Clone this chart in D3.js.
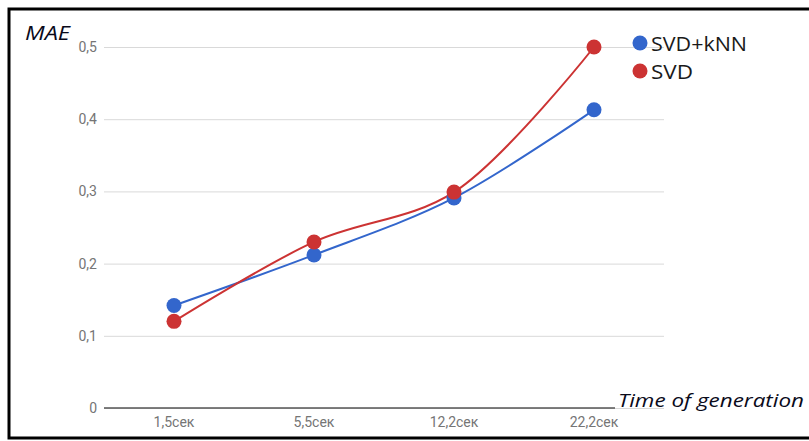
<!DOCTYPE html>
<html><head><meta charset="utf-8">
<script src="https://cdn.jsdelivr.net/npm/d3@7"></script>
<style>html,body{margin:0;padding:0;background:#fff;}svg{display:block;}</style>
</head><body>
<script>
const categories = ["1,5сек","5,5сек","12,2сек","22,2сек"];
const seriesNames = ["SVD+kNN","SVD"];
const svdKnn = [0.142, 0.212, 0.291, 0.413];
const svd = [0.120, 0.230, 0.299, 0.500];
const yTicks = [0, 0.1, 0.2, 0.3, 0.4, 0.5];
const colors = ["#3366cc", "#cc3333"];

const W = 809, H = 441;
const svg = d3.select("body").append("svg").attr("width", W).attr("height", H);
svg.append("rect").attr("width", W).attr("height", H).attr("fill", "#fff");

const x = d3.scaleBand().domain(categories).range([104, 664]);
const y = d3.scaleLinear().domain([0, 0.5]).range([408, 47]);
const fmt = v => v === 0 ? "0" : d3.format(".1f")(v).replace(".", ",");

// gridlines
const yAxis = d3.axisLeft(y).tickValues(yTicks).tickFormat(fmt).tickSize(-(664 - 104)).tickPadding(7);
const gy = svg.append("g").attr("transform", "translate(104,0)").call(yAxis);
gy.select(".domain").remove();
gy.selectAll(".tick line").attr("stroke", "#d9d9d9").attr("stroke-width", 1);
gy.selectAll(".tick text").attr("fill", "#757575").attr("font-family", "Roboto, Arial, sans-serif").attr("font-size", 14);

// baseline
svg.append("line").attr("x1", 104).attr("x2", 615).attr("y1", y(0)).attr("y2", y(0))
  .attr("stroke", "#555").attr("stroke-width", 1.5);

const xAxis = d3.axisBottom(x).tickSize(0).tickPadding(9);
const gx = svg.append("g").attr("transform", `translate(0,${y(0)})`).call(xAxis);
gx.select(".domain").remove();
gx.selectAll(".tick text").attr("fill", "#757575").attr("font-family", "Roboto, Arial, sans-serif").attr("font-size", 14);

const cx = c => x(c) + x.bandwidth() / 2;
const series = [svdKnn, svd];
const line = d3.line().x((d, i) => cx(categories[i])).y(d => y(d)).curve(d3.curveCatmullRom.alpha(0.5));

series.forEach((vals, si) => {
  svg.append("path").datum(vals).attr("d", line).attr("fill", "none")
    .attr("stroke", colors[si]).attr("stroke-width", 2);
});
series.forEach((vals, si) => {
  svg.append("g").selectAll("circle").data(vals).join("circle")
    .attr("cx", (d, i) => cx(categories[i])).attr("cy", d => y(d)).attr("r", 7.5)
    .attr("fill", colors[si]);
});

// legend
const leg = svg.append("g");
seriesNames.forEach((n, i) => {
  leg.append("circle").attr("cx", 640).attr("cy", 43 + i * 28).attr("r", 7.5).attr("fill", colors[i]);
  leg.append("text").attr("x", 651).attr("y", 51 + i * 28).text(n)
    .attr("font-family", "'Open Sans', sans-serif").attr("font-size", 20).attr("fill", "#1a1a1a")
    .attr("textLength", i === 0 ? 96 : 42).attr("lengthAdjust", "spacingAndGlyphs");
});

// axis titles
svg.append("text").attr("x", 25).attr("y", 40).text("MAE")
  .attr("font-family", "'Open Sans', sans-serif").attr("font-style", "italic").attr("font-size", 20).attr("fill", "#0a0a1a")
  .attr("textLength", 45).attr("lengthAdjust", "spacingAndGlyphs");
svg.append("text").attr("x", 618).attr("y", 407).text("Time of generation")
  .attr("font-family", "'Open Sans', sans-serif").attr("font-style", "italic").attr("font-size", 19).attr("fill", "#0a0a1a")
  .attr("textLength", 186).attr("lengthAdjust", "spacingAndGlyphs");

// frame (left, top, bottom)
svg.append("path").attr("d", `M${W + 5},9 H9 V438 H${W + 5}`).attr("fill", "none").attr("stroke", "#000").attr("stroke-width", 3);
</script>
</body></html>
